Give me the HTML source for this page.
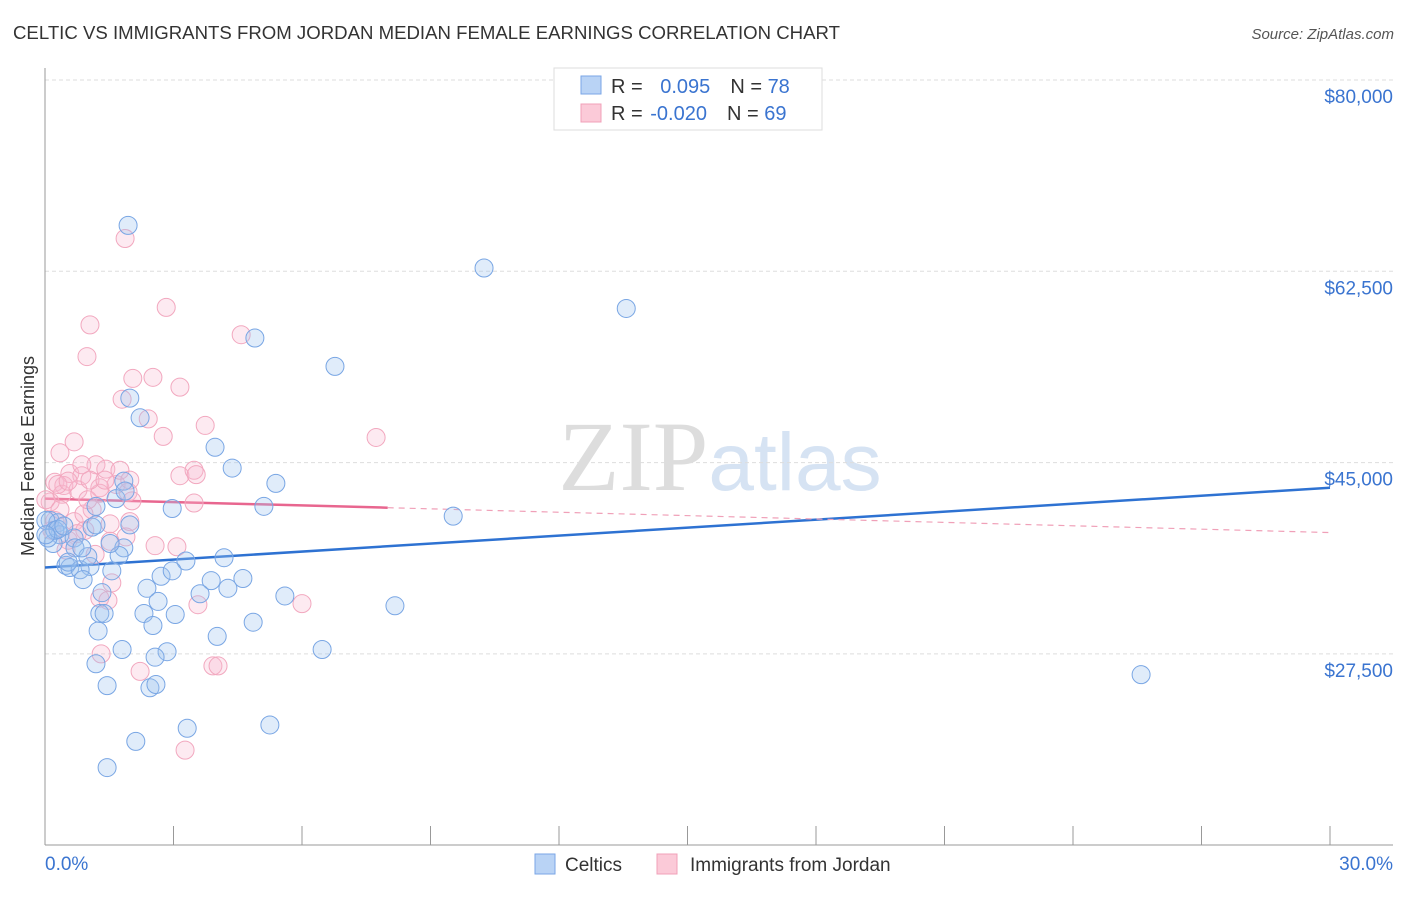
<!DOCTYPE html>
<html><head><meta charset="utf-8"><style>
body{margin:0;background:#fff;font-family:"Liberation Sans",sans-serif;}
</style></head><body>
<svg id="chart" width="1406" height="892" xmlns="http://www.w3.org/2000/svg" font-family="Liberation Sans, sans-serif">
<text x="13" y="39" font-size="18" fill="#333" textLength="827" lengthAdjust="spacingAndGlyphs">CELTIC VS IMMIGRANTS FROM JORDAN MEDIAN FEMALE EARNINGS CORRELATION CHART</text>
<text x="1394" y="39" font-size="15" fill="#555" text-anchor="end" font-style="italic">Source: ZipAtlas.com</text>
<text x="720" y="490" font-size="100" text-anchor="middle"><tspan fill="#ddd" font-family="Liberation Serif, serif">ZIP</tspan><tspan fill="#d6e3f3" font-size="82">atlas</tspan></text>
<text transform="translate(34,456) rotate(-90)" font-size="18" fill="#333" text-anchor="middle">Median Female Earnings</text>
<g id="grid"></g><g id="axes"></g><g id="trends"></g><g id="pts"></g>
<g>
<rect x="554" y="68" width="268" height="62" fill="#fff" stroke="#ddd"/>
<rect x="581" y="76" width="20" height="18" fill="#b9d3f5" stroke="#7aa6e6"/>
<rect x="581" y="104" width="20" height="18" fill="#fbcad8" stroke="#f0a0b8"/>
<text x="611" y="93" font-size="20" fill="#333">R = <tspan fill="#3a74d0" dx="12">0.095</tspan><tspan dx="20">N = </tspan><tspan fill="#3a74d0">78</tspan></text>
<text x="611" y="120" font-size="20" fill="#333">R = <tspan fill="#3a74d0" dx="2">-0.020</tspan><tspan dx="20">N = </tspan><tspan fill="#3a74d0">69</tspan></text>
</g>
<g>
<rect x="535" y="854" width="20" height="20" fill="#b9d3f5" stroke="#7aa6e6"/>
<text x="565" y="871" font-size="19" fill="#333">Celtics</text>
<rect x="657" y="854" width="20" height="20" fill="#fbcad8" stroke="#f0a0b8"/>
<text x="690" y="871" font-size="19" fill="#333">Immigrants from Jordan</text>
</g>
</svg>
<script>
const yTicks=[80000,62500,45000,27500];
const yTickLabels=["$80,000","$62,500","$45,000","$27,500"];
const xTickLabels=["0.0%","30.0%"];
const blueX=[1.94,10.25,13.57,4.90,6.77,1.98,2.22,3.97,4.37,5.39,1.84,5.11,2.97,9.53,0.12,0.30,0.02,0.35,0.19,0.68,1.98,1.10,1.84,1.73,4.18,3.29,0.49,0.58,1.05,0.82,1.56,2.71,2.97,0.89,3.88,4.62,2.38,4.27,2.64,3.62,5.60,8.17,1.33,1.28,1.38,2.31,3.04,4.86,2.52,1.24,4.02,1.80,2.85,2.57,6.47,1.19,25.59,1.45,2.45,2.59,3.32,5.25,2.12,1.45,0.23,0.07,0.30,0.44,0.70,1.00,0.86,1.66,1.87,1.19,0.02,0.54,1.19,1.52];
const blueY=[66.7,62.8,59.1,56.4,53.8,50.9,49.1,46.4,44.5,43.1,43.3,41.0,40.8,40.1,39.7,39.5,39.7,38.4,37.6,38.1,39.3,39.1,37.2,36.5,36.3,36.0,35.6,35.4,35.5,35.2,35.1,34.6,35.1,34.3,34.2,34.4,33.5,33.5,32.3,33.0,32.8,31.9,33.1,31.2,31.2,31.2,31.1,30.4,30.1,29.6,29.1,27.9,27.7,27.2,27.9,26.6,25.6,24.6,24.4,24.7,20.7,21.0,19.5,17.1,38.8,38.1,38.9,39.2,37.2,36.4,37.2,41.7,42.4,41.0,38.4,35.9,39.3,37.6];
const pinkX=[1.87,2.83,1.05,4.58,0.98,2.05,2.52,3.15,1.80,2.41,2.76,3.74,7.73,0.68,0.35,1.19,1.42,3.15,3.48,0.58,0.86,0.23,0.44,1.28,1.66,1.94,2.03,0.77,0.40,0.12,1.10,3.48,3.53,1.52,0.68,1.98,0.16,0.23,0.93,1.89,2.57,3.08,0.49,1.17,1.52,0.91,0.54,1.56,1.28,1.47,3.57,6.00,1.31,3.92,4.04,2.22,3.27,0.30,0.54,0.02,1.00,0.75,1.28,1.75,0.86,1.98,1.05,1.40,0.35];
const pinkY=[65.5,59.2,57.6,56.7,54.7,52.7,52.8,51.9,50.8,49.0,47.4,48.4,47.3,46.9,45.9,44.8,44.4,43.8,44.3,44.0,43.8,43.2,42.9,42.7,43.0,42.3,41.5,42.5,42.1,41.4,40.7,41.3,43.9,39.4,39.6,39.6,38.8,39.7,38.8,38.2,37.4,37.3,37.0,36.6,37.8,40.3,37.9,34.0,32.6,32.4,32.0,32.1,27.5,26.4,26.4,25.9,18.7,43.0,43.3,41.6,41.6,38.5,42.2,44.3,44.8,43.4,43.4,43.4,40.7];
const blueTrend=[35.4,42.7];   // $k at 0% and 30%
const pinkTrend=[41.7,38.6];
const pinkSolidEnd=8.0;        // % where solid pink line ends
const NS="http://www.w3.org/2000/svg";
const X=p=>45+p/30*1285;
const Y=v=>80+(80000-v)/17500*191.3;
function mk(tag,at,parent){const e=document.createElementNS(NS,tag);for(const k in at)e.setAttribute(k,at[k]);document.getElementById(parent).appendChild(e);return e;}
yTicks.forEach((t,i)=>{
  const l=mk('line',{x1:45,x2:1393,y1:Y(t),y2:Y(t),stroke:'#ddd','stroke-dasharray':'4,3'},'grid');
  
  
  const tx=mk('text',{x:1393,y:Y(t)+23,'font-size':19,fill:'#3a74d0','text-anchor':'end'},'axes');
  tx.textContent=yTickLabels[i];
  
  
});
let a=mk('line',{x1:45,x2:45,y1:68,y2:845,stroke:'#999'},'axes');


a=mk('line',{x1:45,x2:1393,y1:845,y2:845,stroke:'#999'},'axes');


for(let i=0;i<=10;i++){const t=mk('line',{x1:X(i*3),x2:X(i*3),y1:826,y2:845,stroke:'#999'},'axes');
  
  }
[[0,'start',45],[30,'end',1393]].forEach((d,i)=>{const t=mk('text',{x:d[2],y:870,'font-size':19,fill:'#3a74d0','text-anchor':d[1]},'axes');t.textContent=xTickLabels[i];
  
  });
function dots(xs,ys,fill,stroke,name){xs.forEach((x,i)=>{const c=mk('circle',{cx:X(x),cy:Y(ys[i]*1000),r:9,fill:fill,stroke:stroke,'stroke-width':1},'pts');
  
  });}
dots(pinkX,pinkY,'rgba(248,185,208,0.3)','#f2a8bf','jordan-point');
dots(blueX,blueY,'rgba(160,195,240,0.32)','#79a6e4','celtic-point');
let t=mk('line',{x1:X(0),y1:Y(blueTrend[0]*1000),x2:X(30),y2:Y(blueTrend[1]*1000),stroke:'#2e72d2','stroke-width':2.5},'trends');


const pv=p=>pinkTrend[0]+(pinkTrend[1]-pinkTrend[0])*p/30;
t=mk('line',{x1:X(0),y1:Y(pinkTrend[0]*1000),x2:X(pinkSolidEnd),y2:Y(pv(pinkSolidEnd)*1000),stroke:'#e8668f','stroke-width':2.5},'trends');


t=mk('line',{x1:X(pinkSolidEnd),y1:Y(pv(pinkSolidEnd)*1000),x2:X(30),y2:Y(pinkTrend[1]*1000),stroke:'#f0a0b8','stroke-width':1.2,'stroke-dasharray':'6,5'},'trends');


</script>
</body></html>
